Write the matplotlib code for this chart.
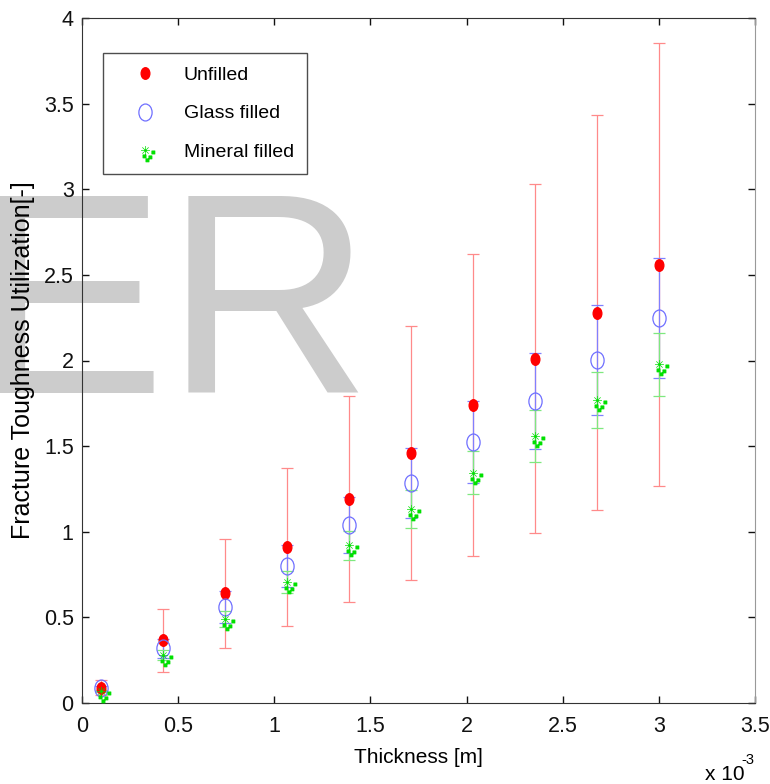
import numpy as np
import matplotlib
matplotlib.use('Agg')
import matplotlib.pyplot as plt
from matplotlib.path import Path
from matplotlib.transforms import Affine2D

# thickness in metres
thickness = [0.100e-3, 0.422e-3, 0.744e-3, 1.067e-3, 1.389e-3,
             1.711e-3, 2.033e-3, 2.356e-3, 2.678e-3, 3.000e-3]

unfilled = [0.09, 0.365, 0.64, 0.91, 1.19, 1.46, 1.74, 2.01, 2.28, 2.56]
unfilled_err = [0.045, 0.185, 0.32, 0.46, 0.60, 0.74, 0.88, 1.02, 1.155, 1.295]

glass = [0.085, 0.32, 0.56, 0.80, 1.04, 1.285, 1.525, 1.765, 2.005, 2.246]
glass_err = [0.013, 0.055, 0.093, 0.122, 0.163, 0.204, 0.24, 0.28, 0.321, 0.35]

mineral = [0.07, 0.28, 0.49, 0.707, 0.92, 1.13, 1.345, 1.558, 1.767, 1.978]
mineral_err = [0.007, 0.028, 0.047, 0.063, 0.087, 0.111, 0.126, 0.153, 0.164, 0.185]

x_ticks = [0, 0.5e-3, 1.0e-3, 1.5e-3, 2.0e-3, 2.5e-3, 3.0e-3, 3.5e-3]
x_tick_labels = ['0', '0.5', '1', '1.5', '2', '2.5', '3', '3.5']
y_ticks = [0, 0.5, 1, 1.5, 2, 2.5, 3, 3.5, 4]
y_tick_labels = ['0', '0.5', '1', '1.5', '2', '2.5', '3', '3.5', '4']

plt.rcParams['font.family'] = ['Liberation Sans', 'DejaVu Sans']


def ellipse_marker(aspect):
    # the picture is squeezed sideways, so round markers look like ellipses
    return Path.unit_circle().transformed(Affine2D().scale(aspect, 1.0))


def mineral_marker():
    # matlab '*' plus the little dots it smears out below
    verts, codes = [], []
    r = 4.5
    for ang in (0, 45, 90, 135):
        dx, dy = r * np.cos(np.radians(ang)), r * np.sin(np.radians(ang))
        verts += [(dx, dy), (-dx, -dy)]
        codes += [Path.MOVETO, Path.LINETO]
    h = 1.6
    for cx, cy in [(8, -2), (-1, -6), (5, -7), (2, -10)]:
        verts += [(cx - h, cy - h), (cx + h, cy - h), (cx + h, cy + h),
                  (cx - h, cy + h), (cx - h, cy - h)]
        codes += [Path.MOVETO, Path.LINETO, Path.LINETO, Path.LINETO, Path.CLOSEPOLY]
    return Path(verts, codes)


fig = plt.figure(figsize=(7.7, 7.84), dpi=100)
fig.set_facecolor('white')
ax = fig.add_axes([82 / 770, 81 / 784, 673 / 770, 685 / 784])
ax.set_facecolor('none')

# grey watermark sits behind everything
fig.text(372 / 770, (784 - 393) / 784, 'ER', fontsize=206, color='#cccccc',
         family='Liberation Sans', ha='right', va='baseline', zorder=-1)

ax.errorbar(thickness, unfilled, yerr=unfilled_err, fmt='none',
            ecolor='#ff8a8a', elinewidth=0.9, capsize=4, capthick=0.9, zorder=2)
ax.errorbar(thickness, glass, yerr=glass_err, fmt='none',
            ecolor='#8080ff', elinewidth=0.9, capsize=4, capthick=0.9, zorder=2.1)
ax.errorbar(thickness, mineral, yerr=mineral_err, fmt='none',
            ecolor='#7fe87f', elinewidth=0.9, capsize=4, capthick=0.9, zorder=2.2)

ax.plot(thickness, unfilled, linestyle='none', marker=ellipse_marker(0.75),
        markersize=8.3, color='#ff0000', markeredgecolor='#ff0000',
        label='Unfilled', zorder=3)
ax.plot(thickness, glass, linestyle='none', marker=ellipse_marker(0.78),
        markersize=12.2, markerfacecolor='none', markeredgecolor='#6f6fff',
        markeredgewidth=0.9, label='Glass filled', zorder=3)
ax.plot(thickness, mineral, linestyle='none', marker=mineral_marker(),
        markersize=16.5, color='#00e000', markeredgecolor='#00e000',
        markeredgewidth=0.5, label='Mineral filled', zorder=3)

ax.set_xlim(0, 3.5e-3)
ax.set_ylim(0, 4)
ax.set_xticks(x_ticks)
ax.set_xticklabels(x_tick_labels)
ax.set_yticks(y_ticks)
ax.set_yticklabels(y_tick_labels)
ax.tick_params(direction='in', length=5, width=1, top=True, right=True,
               labelsize=15.5, colors='#111111')
ax.tick_params(axis='x', pad=9)
ax.tick_params(axis='y', pad=6)
for side in ['top', 'bottom', 'left']:
    ax.spines[side].set_color('#333333')
ax.spines['right'].set_color('#999999')

ax.set_xlabel('Thickness [m]', fontsize=15, labelpad=8)
ax.set_ylabel('Fracture Toughness Utilization[-]', fontsize=18, labelpad=6)

fig.text(705 / 770, (784 - 780) / 784, 'x 10', fontsize=15, ha='left', va='baseline')
fig.text(741 / 770, (784 - 764) / 784, '-3', fontsize=10.5, ha='left', va='baseline')

leg = ax.legend(loc='upper left', bbox_to_anchor=(21 / 673, (703 - 53) / 685),
                borderaxespad=0, fontsize=14, numpoints=1, frameon=True,
                fancybox=False, handlelength=2.9, handletextpad=0.55,
                borderpad=0.7, labelspacing=1.06)
leg.get_frame().set_edgecolor('#222222')
leg.get_frame().set_linewidth(1.0)

fig.savefig('out.png', dpi=100, facecolor='white')
